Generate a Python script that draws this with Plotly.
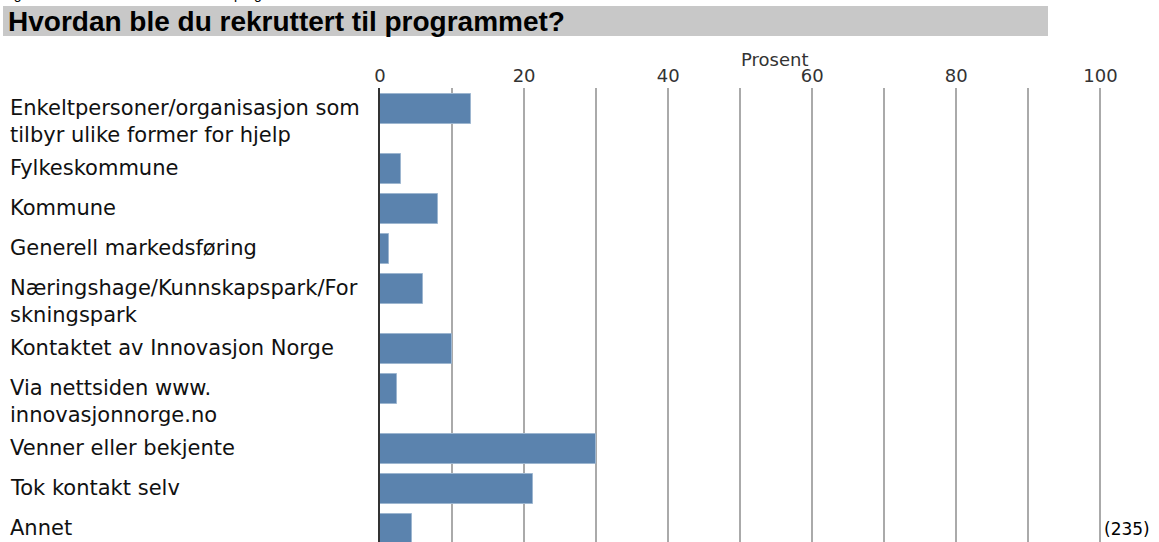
import plotly.graph_objects as go

# Survey answers (percent of respondents, n = 235)
categories = [
    "Enkeltpersoner/organisasjon som<br>tilbyr ulike former for hjelp",
    "Fylkeskommune",
    "Kommune",
    "Generell markedsføring",
    "Næringshage/Kunnskapspark/For<br>skningspark",
    "Kontaktet av Innovasjon Norge",
    "Via nettsiden www.<br>innovasjonnorge.no",
    "Venner eller bekjente",
    "Tok kontakt selv",
    "Annet",
]
percent = [12.7, 2.9, 8.1, 1.2, 5.9, 10.0, 2.4, 30.0, 21.2, 4.5]
x_ticks = [0, 20, 40, 60, 80, 100]
title_text = "Hvordan ble du rekruttert til programmet?"
caption_text = "Figur 4.3 Hvordan ble du rekruttert til programmet"
axis_title = "Prosent"
n_text = "(235)"

# Page geometry (pixels)
W, H = 1159, 542
ML, MR, MT, MB = 380, 55, 88, 0
PW, PH = W - ML - MR, H - MT - MB
X_MAX = 100.5


def px_x(px):
    return (px - ML) / PW


def px_y(py):
    return (H - MB - py) / PH


# Vertical slots: one text line = 2 units, two lines = 3 units (1 unit = 20 px)
UNIT = 20.0
n_lines = [c.count("<br>") + 1 for c in categories]
pos = [0.0]
for i in range(1, len(categories)):
    pos.append(pos[-1] + (2 if n_lines[i - 1] == 1 else 3))
top_off = 1.03
y_range = [PH / UNIT - top_off, -top_off]

bar_color = "#5B83AE"
label_size = 21
label_font = dict(family="DejaVu Sans", size=label_size, color="#111111")
tick_font = dict(family="DejaVu Sans", size=18, color="#333333")
line_h = 19 * 1.3 / UNIT

fig = go.Figure(
    go.Bar(
        x=percent,
        y=pos,
        orientation="h",
        width=1.5,
        marker=dict(color=bar_color, line=dict(color="#9DB6D0", width=1)),
        hoverinfo="x",
    )
)

annotations = []
for c, p, n in zip(categories, pos, n_lines):
    annotations.append(dict(
        x=px_x(8), xref="paper", xanchor="left",
        y=p - 0.05 + (n - 1) * label_size * 1.3 / UNIT / 2, yref="y", yanchor="middle",
        text=c, showarrow=False, align="left", font=label_font,
    ))

annotations += [
    dict(x=px_x(6), xref="paper", xanchor="left", y=px_y(21), yref="paper",
         yanchor="middle", text=title_text, showarrow=False,
         font=dict(family="Liberation Sans", size=28, color="#000000", weight="bold")),
    dict(x=px_x(0), xref="paper", xanchor="left", y=px_y(4), yref="paper",
         yanchor="bottom", text=caption_text, showarrow=False,
         font=dict(family="Liberation Sans", size=14, color="#000000")),
    dict(x=px_x(774), xref="paper", xanchor="center", y=px_y(60), yref="paper",
         yanchor="middle", text=axis_title, showarrow=False, font=tick_font),
    dict(x=px_x(1102), xref="paper", xanchor="left", y=px_y(529), yref="paper",
         yanchor="middle", text=n_text, showarrow=False,
         font=dict(family="DejaVu Sans", size=17, color="#000000")),
]

shapes = [
    dict(type="rect", xref="paper", yref="paper",
         x0=px_x(3), x1=px_x(1048), y0=px_y(36), y1=px_y(6),
         fillcolor="#C8C8C8", line=dict(width=0), layer="below"),
]

fig.update_layout(
    width=W, height=H,
    margin=dict(l=ML, r=MR, t=MT, b=MB, pad=0),
    plot_bgcolor="white", paper_bgcolor="white",
    showlegend=False,
    bargap=0,
    annotations=annotations,
    shapes=shapes,
    xaxis=dict(
        side="top", range=[0, X_MAX], tickvals=x_ticks,
        ticks="", tickfont=tick_font, ticklabelstandoff=1,
        showgrid=True, gridcolor="#AAAAAA", gridwidth=1.5,
        minor=dict(dtick=10, showgrid=True, gridcolor="#AAAAAA", gridwidth=1.5),
        zeroline=False, showline=False, fixedrange=True,
    ),
    yaxis=dict(
        range=y_range, showticklabels=False, showgrid=False, zeroline=False,
        showline=True, linecolor="#333333", linewidth=2, fixedrange=True,
    ),
)

fig.write_html("out.html", config={"displayModeBar": False})
